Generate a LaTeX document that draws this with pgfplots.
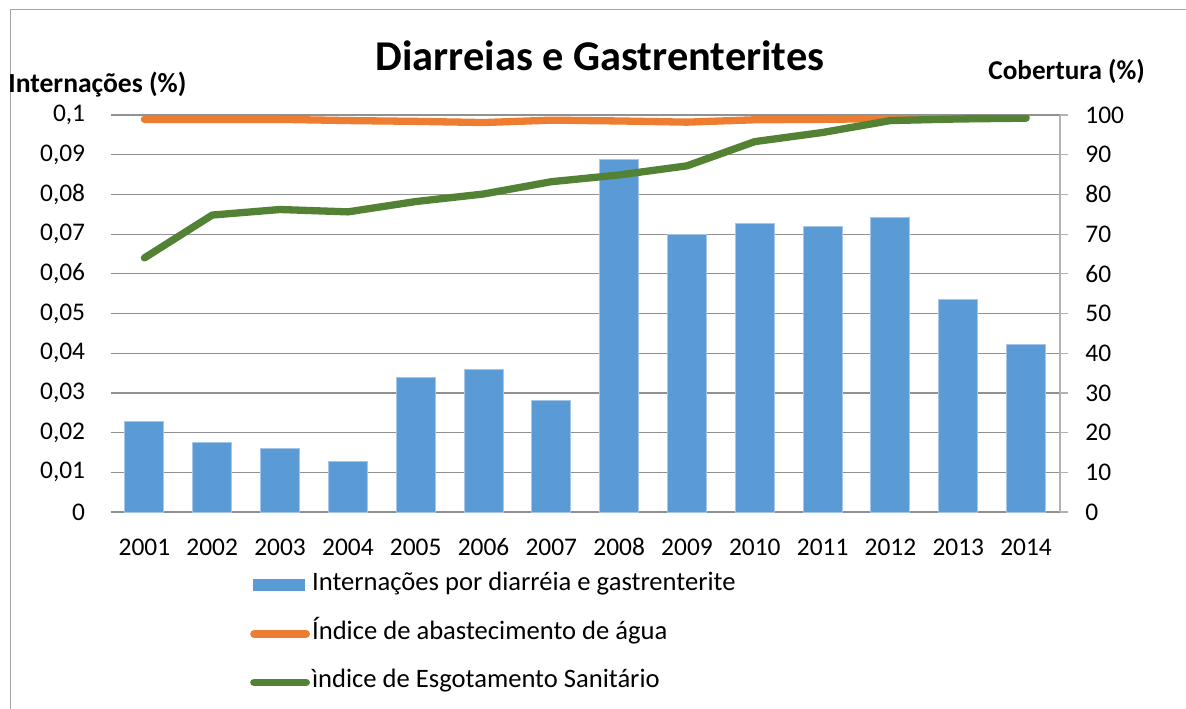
\documentclass[border=0pt]{standalone}
\usepackage{fontspec}
\setmainfont{Carlito}
\usepackage{pgfplots}
\pgfplotsset{compat=1.18}
\definecolor{barblue}{RGB}{91,155,213}
\definecolor{baredge}{RGB}{165,198,232}
\definecolor{orng}{RGB}{237,125,49}
\definecolor{grn}{RGB}{84,130,53}
\definecolor{gridc}{RGB}{145,145,145}
\definecolor{axc}{RGB}{178,178,178}
\definecolor{bordc}{RGB}{165,165,165}
\begin{document}
\begin{tikzpicture}
\useasboundingbox (0,0) rectangle (593pt,-354pt);
\draw[bordc, line width=0.75pt] (5.25pt,-400pt) -- (5.25pt,-4.75pt) -- (700pt,-4.75pt);
\begin{axis}[
  at={(55.25pt,-256pt)}, anchor=south west, scale only axis,
  width=474.75pt, height=198.5pt,
  xmin=-0.5, xmax=13.5, ymin=0, ymax=0.1,
  axis line style={draw=none},
  xtick={0,...,13},
  xticklabels={2001,2002,2003,2004,2005,2006,2007,2008,2009,2010,2011,2012,2013,2014},
  ytick={0,0.01,0.02,0.03,0.04,0.05,0.06,0.07,0.08,0.09,0.1},
  yticklabels={0,{0,01},{0,02},{0,03},{0,04},{0,05},{0,06},{0,07},{0,08},{0,09},{0,1}},
  major tick length=0pt,
  tick style={draw=none},
  ymajorgrids, major grid style={gridc, line width=0.6pt},
  ticklabel style={font=\fontsize{12.7}{15}\selectfont},
  yticklabel style={anchor=east, inner sep=0pt, xshift=-12.5pt},
  xticklabel style={anchor=base, inner sep=0pt, yshift=-21.5pt},
  legend style={at={(0.147,-0.153)}, anchor=north west, draw=none, fill=none,
    inner sep=0pt, outer sep=0pt, row sep=11.8pt, column sep=1pt,
    font=\fontsize{13.3}{15}\selectfont,
    nodes={inner sep=0pt, text height=9pt, text depth=3.5pt}},
  legend cell align=left,
]
\addplot[ybar, bar width=0.575, fill=barblue, draw=baredge, line width=0.5pt,
  legend image code/.code={\fill[barblue, draw=none] (1.5pt,-3pt) rectangle (27.5pt,3pt); \path[draw=none] (0pt,0pt) -- (30pt,0pt);}]
  coordinates {(0,0.0228) (1,0.0176) (2,0.0159) (3,0.0128) (4,0.0340) (5,0.0360) (6,0.0281)
               (7,0.0887) (8,0.0698) (9,0.0727) (10,0.0720) (11,0.0742) (12,0.0536) (13,0.0423)};
\addlegendentry{Internações por diarréia e gastrenterite}
\addlegendimage{legend image code/.code={\draw[orng, line width=3.9pt, line cap=round] (2pt,0pt) -- (28pt,0pt);}}
\addlegendentry{Índice de abastecimento de água}
\addlegendimage{legend image code/.code={\draw[grn, line width=3.9pt, line cap=round] (2pt,0pt) -- (28pt,0pt);}}
\addlegendentry{ìndice de Esgotamento Sanitário}
\end{axis}
\begin{axis}[
  at={(55.25pt,-256pt)}, anchor=south west, scale only axis,
  width=474.75pt, height=198.5pt,
  xmin=-0.5, xmax=13.5, ymin=0, ymax=100,
  axis x line=none, axis y line*=right,
  axis line style={-, axc, line width=0.6pt},
  ytick={0,10,20,30,40,50,60,70,80,90,100},
  yticklabels={0,10,20,30,40,50,60,70,80,90,100},
  tick align=outside, major tick length=4pt,
  ytick style={axc, line width=0.6pt},
  ticklabel style={font=\fontsize{12.7}{15}\selectfont},
  yticklabel style={anchor=west, inner sep=0pt, xshift=8.5pt},
]
\addplot[orng, line width=3.65pt, line cap=round, line join=round] coordinates {
  (0,98.9) (1,98.9) (2,98.9) (3,98.6) (4,98.4) (5,98.1) (6,98.7)
  (7,98.5) (8,98.2) (9,98.8) (10,98.9) (11,99.1) (12,99.3) (13,99.5)};
\addplot[grn, line width=3.65pt, line cap=round, line join=round] coordinates {
  (0,64.0) (1,74.8) (2,76.2) (3,75.6) (4,78.2) (5,80.1) (6,83.2)
  (7,84.9) (8,87.2) (9,93.3) (10,95.6) (11,98.6) (12,99.0) (13,99.2)};
\end{axis}
\node[anchor=base, inner sep=0pt, font=\bfseries\fontsize{21.2}{24}\selectfont] at (300pt,-35pt) {Diarreias e Gastrenterites};
\node[anchor=base west, inner sep=0pt, font=\bfseries\fontsize{13.8}{16}\selectfont] at (4pt,-46pt) {Internações (\%)};
\node[anchor=base west, inner sep=0pt, font=\bfseries\fontsize{13.6}{16}\selectfont] at (494pt,-39.5pt) {Cobertura (\%)};
\end{tikzpicture}
\end{document}
